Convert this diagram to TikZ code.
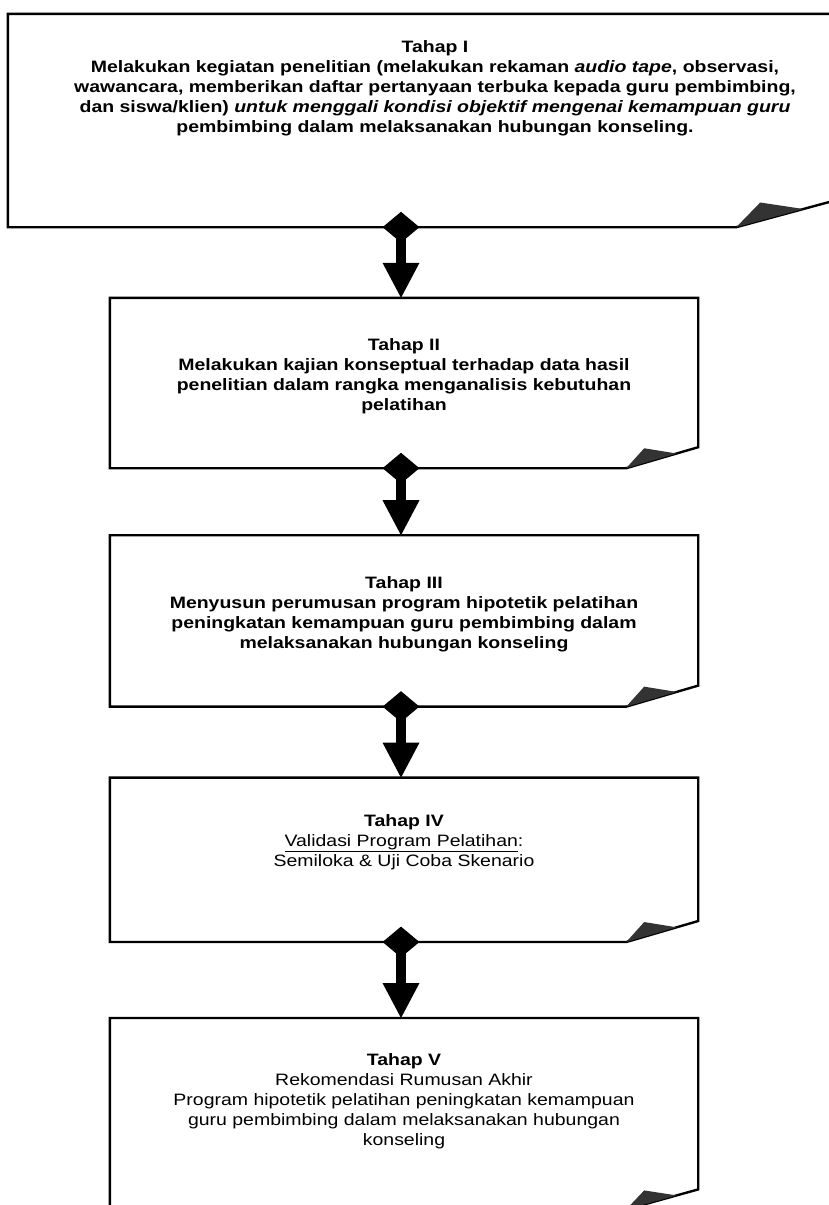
\documentclass[tikz,border=0pt]{standalone}
\usepackage{fontspec}
\setmainfont{Liberation Sans}[FakeStretch=1.18]
\usetikzlibrary{arrows.meta,positioning,shapes.geometric,calc}

% box outline with a curled lower right corner: node, curl width, curl height
\newcommand\pagecurl[3]{%
  \draw[outline] ($(#1.south east)+(-#2,0)$) -- (#1.south west) -- (#1.north west)
    -- (#1.north east) -- ($(#1.south east)+(0,#3)$) -- cycle;
  \fill[curl] ($(#1.south east)+(-#2,0)$) -- ++(0.25*#2,0.95*#3) -- ++(0.45*#2,-0.25*#3) -- cycle;
}

\begin{document}
\begin{tikzpicture}[
  x=1pt,y=1pt,
  stagebox/.style={rectangle,inner sep=0pt,minimum width=588pt},
  outline/.style={line width=2.4pt,line join=miter},
  curl/.style={fill=black!80},
  stagetext/.style={align=center,inner sep=0pt,font=\fontsize{16.5}{20}\selectfont},
  stagebold/.style={stagetext,font=\fontsize{16.5}{20}\selectfont\bfseries},
  joint/.style={diamond,fill=black,inner sep=0pt,minimum width=37pt,minimum height=31pt},
  link/.style={line width=10pt,-{Triangle[width=37pt,length=35pt,line width=0pt]}}
]
\useasboundingbox (0,0) rectangle (829,-1205);
\coordinate (linkx) at (401,0);

\node[stagebox,minimum width=824pt,minimum height=213pt] (b1) at (420,-120.5) {};
\node[stagebox,minimum height=170pt] (b2) at (404,-383) {};
\node[stagebox,minimum height=171pt,below=67pt of b2] (b3) {};
\node[stagebox,minimum height=164pt,below=71pt of b3] (b4) {};
\node[stagebox,minimum height=191pt,below=76pt of b4] (b5) {};

\pagecurl{b1}{96}{26}
\pagecurl{b2}{72}{21}
\pagecurl{b3}{72}{21}
\pagecurl{b4}{72}{21}
\pagecurl{b5}{72}{20}

\node[stagebold,below=27pt of b1.north,xshift=15pt] (t1) {Tahap I\\
  Melakukan kegiatan penelitian (melakukan rekaman \textit{audio tape}, observasi,\\
  wawancara, memberikan daftar pertanyaan terbuka kepada guru pembimbing,\\
  dan siswa/klien) \textit{untuk menggali kondisi objektif mengenai kemampuan guru}\\
  pembimbing dalam melaksanakan hubungan konseling.};
\node[stagebold,below=41pt of b2.north] (t2) {Tahap II\\
  Melakukan kajian konseptual terhadap data hasil\\
  penelitian dalam rangka menganalisis kebutuhan\\
  pelatihan};
\node[stagebold,below=41pt of b3.north] (t3) {Tahap III\\
  Menyusun perumusan program hipotetik pelatihan\\
  peningkatan kemampuan guru pembimbing dalam\\
  melaksanakan hubungan konseling};
\node[stagetext,below=37pt of b4.north] (t4) {\textbf{Tahap IV}\\
  \underline{Validasi Program Pelatihan}:\\
  Semiloka \& Uji Coba Skenario};
\node[stagetext,below=35pt of b5.north] (t5) {\textbf{Tahap V}\\
  Rekomendasi Rumusan Akhir\\
  Program hipotetik pelatihan peningkatan kemampuan\\
  guru pembimbing dalam melaksanakan hubungan\\
  konseling};

% connectors
\foreach \i/\j in {1/2,2/3,3/4,4/5}{
  \node[joint] (j\i) at (b\i.south -| linkx) {};
  \draw[link] (j\i.center) -- (j\i.center |- b\j.north);
}
\end{tikzpicture}
\end{document}
